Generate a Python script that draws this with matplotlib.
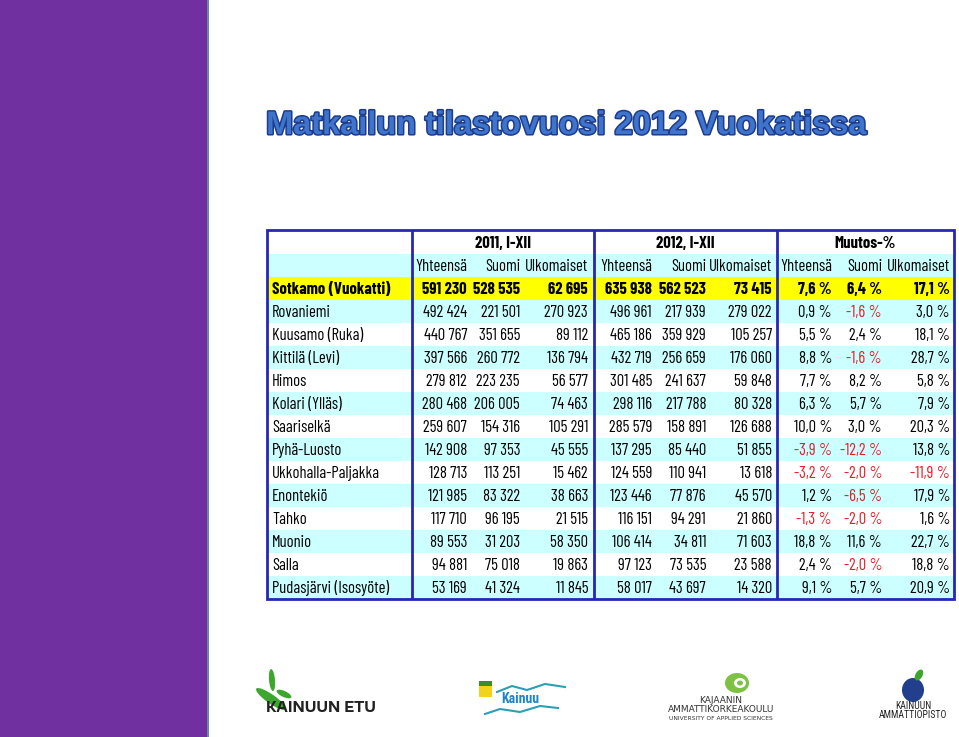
import matplotlib
matplotlib.use("Agg")
import matplotlib.pyplot as plt
import matplotlib.patches as mpatches
import matplotlib.patheffects as pe
from matplotlib import font_manager as fm
from matplotlib.textpath import TextPath

# ---------------- data ----------------
places = ["Sotkamo (Vuokatti)", "Rovaniemi", "Kuusamo (Ruka)", "Kittilä (Levi)", "Himos",
          "Kolari (Ylläs)", "Saariselkä", "Pyhä-Luosto", "Ukkohalla-Paljakka", "Enontekiö",
          "Tahko", "Muonio", "Salla", "Pudasjärvi (Isosyöte)"]
total_2011 = [591230, 492424, 440767, 397566, 279812, 280468, 259607, 142908, 128713, 121985,
              117710, 89553, 94881, 53169]
finland_2011 = [528535, 221501, 351655, 260772, 223235, 206005, 154316, 97353, 113251, 83322,
                96195, 31203, 75018, 41324]
foreign_2011 = [62695, 270923, 89112, 136794, 56577, 74463, 105291, 45555, 15462, 38663,
                21515, 58350, 19863, 11845]
total_2012 = [635938, 496961, 465186, 432719, 301485, 298116, 285579, 137295, 124559, 123446,
              116151, 106414, 97123, 58017]
finland_2012 = [562523, 217939, 359929, 256659, 241637, 217788, 158891, 85440, 110941, 77876,
                94291, 34811, 73535, 43697]
foreign_2012 = [73415, 279022, 105257, 176060, 59848, 80328, 126688, 51855, 13618, 45570,
                21860, 71603, 23588, 14320]
chg_total = [7.6, 0.9, 5.5, 8.8, 7.7, 6.3, 10.0, -3.9, -3.2, 1.2, -1.3, 18.8, 2.4, 9.1]
chg_finland = [6.4, -1.6, 2.4, -1.6, 8.2, 5.7, 3.0, -12.2, -2.0, -6.5, -2.0, 11.6, -2.0, 5.7]
chg_foreign = [17.1, 3.0, 18.1, 28.7, 5.8, 7.9, 20.3, 13.8, -11.9, 17.9, 1.6, 22.7, 18.8, 20.9]
group_labels = ["2011, I-XII", "2012, I-XII", "Muutos-%"]
sub_labels = ["Yhteensä", "Suomi", "Ulkomaiset"]
title = "Matkailun tilastovuosi 2012 Vuokatissa"


def fmt_int(v):
    return f"{v:,}".replace(",", " ")


def fmt_pct(v):
    return f"{v:.1f}".replace(".", ",") + " %"


# ---------------- font choice ----------------
FAM = "DejaVu Sans"
for fam in ["Barlow Condensed", "Roboto Condensed", "Archivo Narrow"]:
    try:
        fm.findfont(fm.FontProperties(family=fam, weight="bold"), fallback_to_default=False)
        FAM = fam
        break
    except Exception:
        continue
FONT = [FAM, "DejaVu Sans"]
bold_prop = fm.FontProperties(family=FAM, weight="bold")
ext_d = TextPath((0, 0), "591 230", size=10, prop=bold_prop).get_extents()
ext_n = TextPath((0, 0), "Sotkamo (Vuokatti)", size=10, prop=bold_prop).get_extents()
px_h = 12.0 / (ext_d.height / 10.0)       # font size in px giving 12 px digit height
px_w = 120.0 / (ext_n.width / 10.0)       # keep the place names inside their column
fs = min(px_h, px_w) * 72 / 100.0

# ---------------- figure ----------------
fig = plt.figure(figsize=(9.59, 7.37), dpi=100)
ax = fig.add_axes([0, 0, 1, 1])
ax.set_xlim(0, 959)
ax.set_ylim(737, 0)
ax.axis("off")

# purple side bar
ax.add_patch(mpatches.Rectangle((0, 0), 207, 737, color="#7030A0", lw=0))
ax.add_patch(mpatches.Rectangle((207, 0), 2, 737, color="#6A86B0", lw=0))

# title
ax.text(566, 134, title, ha="center", va="baseline", fontsize=23.4,
        fontweight="bold", family=["Liberation Sans", "DejaVu Sans"], color="#3F74CC",
        path_effects=[pe.withStroke(linewidth=2.2, foreground="#1E3C8C")])

# table geometry
L, R = 267, 954
top = 230
h1, h2 = 254, 277
row_h = 23
bottom = h2 + row_h * len(places)
vlines = [412, 594, 777]
cyan = "#CCFFFF"
yellow = "#FFFF00"

ax.add_patch(mpatches.Rectangle((L, h1), R - L, h2 - h1, color=cyan, lw=0))
for i in range(len(places)):
    y0 = h2 + i * row_h
    if i == 0:
        c = yellow
    elif i % 2 == 1:
        c = cyan
    else:
        c = "white"
    ax.add_patch(mpatches.Rectangle((L, y0), R - L, row_h, color=c, lw=0))

border = "#2626B8"
ax.add_patch(mpatches.Rectangle((L, top), R - L, bottom - top, fill=False, ec=border, lw=2))
for x in vlines:
    ax.plot([x, x], [top, bottom], color=border, lw=2, solid_capstyle="butt")

col_right = [467, 520, 588, 652, 706, 772, 832, 882, 950]
group_center = [503, 685, 865]
base_off = 17

for g, lab in enumerate(group_labels):
    ax.text(group_center[g], top + 18, lab, ha="center", va="baseline",
            fontsize=fs, fontweight="bold", family=FONT, color="black")
for k in range(9):
    ax.text(col_right[k], h1 + 17, sub_labels[k % 3], ha="right", va="baseline",
            fontsize=fs, family=FONT, color="black")

cols = [total_2011, finland_2011, foreign_2011, total_2012, finland_2012, foreign_2012,
        chg_total, chg_finland, chg_foreign]
for i, name in enumerate(places):
    yb = h2 + i * row_h + base_off
    wt = "bold" if i == 0 else "normal"
    ax.text(272, yb, name, ha="left", va="baseline", fontsize=fs, fontweight=wt,
            family=FONT, color="black")
    for k, col in enumerate(cols):
        v = col[i]
        if k < 6:
            s, c = fmt_int(v), "black"
        else:
            s = fmt_pct(v)
            c = "#E0202A" if (v < 0 and i != 0) else "black"
        ax.text(col_right[k], yb, s, ha="right", va="baseline", fontsize=fs, fontweight=wt,
                family=FONT, color=c)

# ---------------- logos (approximate) ----------------
green = "#3DA62E"
# Kainuun etu
ax.add_patch(mpatches.Ellipse((272, 680), 6, 22, angle=-5, color=green, lw=0))
ax.add_patch(mpatches.Ellipse((271, 699), 9, 36, angle=-55, color=green, lw=0))
ax.add_patch(mpatches.Ellipse((284, 694), 6, 16, angle=-65, color=green, lw=0))
ax.text(266, 712, "KAINUUN ETU", ha="left", va="baseline", fontsize=10, fontweight="bold",
        family=["Encode Sans Expanded", "DejaVu Sans"], color="#222222")

# Kainuu
ax.add_patch(mpatches.Rectangle((479, 681), 13, 16, color="#F2D31B", lw=0))
ax.add_patch(mpatches.Rectangle((479, 681), 13, 5, color="#3C8C2E", lw=0))
ax.plot([497, 512, 527, 545, 565], [692, 686, 690, 684, 687], color="#2A9FB5", lw=1.5)
ax.plot([485, 500, 520, 540, 558], [714, 709, 712, 706, 708], color="#2A9FB5", lw=1.5)
ax.text(501, 703, "Kainuu", ha="left", va="baseline", fontsize=10, fontweight="bold",
        family=["Roboto Condensed", "DejaVu Sans"], color="#1E86C8")

# Kajaanin ammattikorkeakoulu
ax.add_patch(mpatches.Ellipse((737, 683), 24, 20, color="#7DC243", lw=0))
ax.add_patch(mpatches.Ellipse((740, 683), 12, 10, color="white", lw=0))
ax.add_patch(mpatches.Ellipse((740, 683), 6, 5, color="#7DC243", lw=0))
ax.text(721, 703, "KAJAANIN", ha="center", va="baseline", fontsize=6.5, family=["DejaVu Sans"], color="#333333")
ax.text(721, 712, "AMMATTIKORKEAKOULU", ha="center", va="baseline", fontsize=6.5, family=["DejaVu Sans"], color="#333333")
ax.text(721, 720, "UNIVERSITY OF APPLIED SCIENCES", ha="center", va="baseline", fontsize=4.3, family=["DejaVu Sans"], color="#333333")

# Kainuun ammattiopisto
ax.add_patch(mpatches.Ellipse((913, 690), 22, 24, color="#213F8C", lw=0))
ax.add_patch(mpatches.Ellipse((919, 675), 7, 12, angle=30, color="#3DA62E", lw=0))
ax.text(913, 709, "KAINUUN", ha="center", va="baseline", fontsize=7, family=["Roboto Condensed", "DejaVu Sans"], color="#222222")
ax.text(913, 718, "AMMATTIOPISTO", ha="center", va="baseline", fontsize=7, family=["Roboto Condensed", "DejaVu Sans"], color="#222222")

fig.savefig("out.png", dpi=100)
